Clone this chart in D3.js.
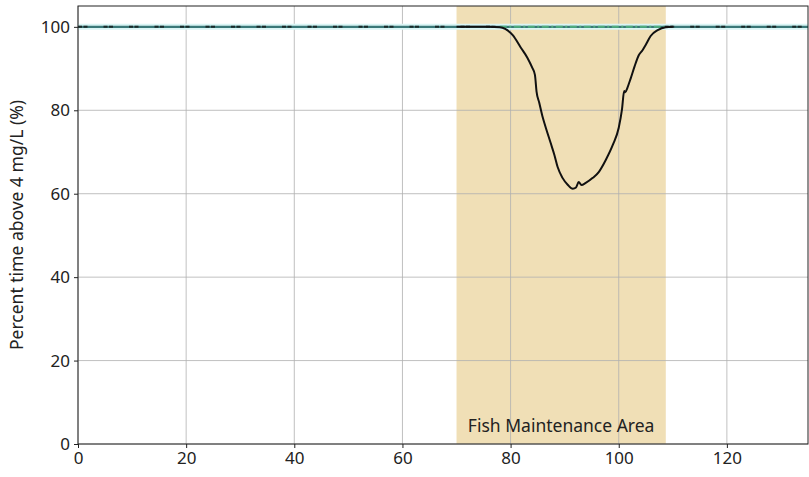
<!DOCTYPE html>
<html>
<head>
<meta charset="utf-8">
<script src="https://cdn.jsdelivr.net/npm/d3@7"></script>
<style>
  body { margin: 0; background: #fff; }
  svg { display: block; font-family: "Noto Sans", sans-serif; }
</style>
</head>
<body>
<svg id="chart" width="809" height="477"></svg>
<script>
// Dissolved oxygen compliance along the river (distance vs. % time above 4 mg/L)
const xTicks = [0, 20, 40, 60, 80, 100, 120];
const yTicks = [0, 20, 40, 60, 80, 100];
const xDomain = [0, 135];
const yDomain = [0, 105];

// Fish maintenance reach
const areaStart = 70;
const areaEnd = 108.7;
const areaLabel = "Fish Maintenance Area";

// Baseline (100 %) series
const baseX = [0, 135];
const baseY = [100, 100];

// Modelled percent-time curve through the maintenance reach
const curveX = [70, 76, 78, 79, 80.4, 81.9, 83.1, 84, 84.5, 84.8, 85.3, 85.9, 86.4, 87.4, 88.1, 88.7, 89.6, 90.6, 91.5, 92.1, 92.6, 93.1, 93.9, 95.2, 96.3, 97.6, 98.9, 100, 100.6, 101, 101.2, 101.6, 102.2, 102.9, 103.7, 104.4, 105, 105.9, 107.2, 108.7, 110];
const curveY = [100, 100, 99.9, 99.5, 98, 95, 92.6, 90.2, 88.5, 84.5, 81.8, 78.5, 76.3, 72.2, 69.3, 66.4, 63.8, 62.1, 61.2, 61.5, 62.8, 62.1, 62.6, 63.8, 65.2, 68.1, 71.7, 75.8, 80.2, 84.6, 84.3, 85.4, 87.6, 90.4, 93.2, 94.4, 95.7, 97.8, 99.2, 99.9, 100];

// Threshold dashes: black outside the dip, green through it
const dashBlackX = [[0, 78], [108.5, 135]];
const dashGreenX = [78, 108.5];

const svg = d3.select("#chart");
const m = { left: 78, right: 1, top: 6, bottom: 33 };
const W = 809, H = 477;

const x = d3.scaleLinear().domain(xDomain).range([m.left, W - m.right]);
const y = d3.scaleLinear().domain(yDomain).range([H - m.bottom, m.top]);

const plot = svg.append("g");

// shaded reach
plot.append("rect")
  .attr("x", x(areaStart)).attr("y", y(yDomain[1]))
  .attr("width", x(areaEnd) - x(areaStart))
  .attr("height", y(yDomain[0]) - y(yDomain[1]))
  .attr("fill", "#f0dfb6");

// grid
plot.append("g").selectAll("line").data(xTicks).join("line")
  .attr("x1", d => x(d)).attr("x2", d => x(d))
  .attr("y1", y(yDomain[0])).attr("y2", y(yDomain[1]))
  .attr("stroke", "#b0b0b0").attr("stroke-width", 0.8);
plot.append("g").selectAll("line").data(yTicks).join("line")
  .attr("x1", x(xDomain[0])).attr("x2", x(xDomain[1]))
  .attr("y1", d => y(d)).attr("y2", d => y(d))
  .attr("stroke", "#b0b0b0").attr("stroke-width", 0.8);

const line = d3.line().x(d => x(d[0])).y(d => y(d[1]));

// baseline with light band
const base = baseX.map((v, i) => [v, baseY[i]]);
plot.append("path").attr("d", line(base)).attr("fill", "none")
  .attr("stroke", "#daf5f5").attr("stroke-width", 6);
plot.append("path").attr("d", line(base)).attr("fill", "none")
  .attr("stroke", "#3a7878").attr("stroke-width", 2.2);

// threshold dashes
dashBlackX.forEach(seg => {
  plot.append("path").attr("d", line(seg.map(v => [v, 100]))).attr("fill", "none")
    .attr("stroke", "#1a2a2a").attr("stroke-width", 2)
    .attr("stroke-dasharray", "4,1.5,4,16");
});
plot.append("path").attr("d", line(dashGreenX.map(v => [v, 100]))).attr("fill", "none")
  .attr("stroke", "#4fae7e").attr("stroke-width", 2)
  .attr("stroke-dasharray", "7,2.5,2,2.5");

// modelled curve
const curve = curveX.map((v, i) => [v, curveY[i]]);
plot.append("path").attr("d", d3.line().curve(d3.curveMonotoneX).x(d => x(d[0])).y(d => y(d[1]))(curve))
  .attr("fill", "none").attr("stroke", "#111").attr("stroke-width", 2)
  .attr("stroke-linejoin", "round");

// reach label
plot.append("text")
  .attr("x", x((areaStart + areaEnd) / 2)).attr("y", y(0) - 12)
  .attr("text-anchor", "middle").attr("font-size", 17.5).attr("fill", "#222")
  .text(areaLabel);

// axes
const xAxis = d3.axisBottom(x).tickValues(xTicks).tickSize(4).tickPadding(4);
const yAxis = d3.axisLeft(y).tickValues(yTicks).tickSize(4).tickPadding(4);

const gx = svg.append("g").attr("transform", `translate(0,${y(yDomain[0])})`).call(xAxis);
const gy = svg.append("g").attr("transform", `translate(${x(xDomain[0])},0)`).call(yAxis);
[gx, gy].forEach(g => {
  g.select(".domain").remove();
  g.selectAll("text").attr("font-size", 17).attr("fill", "#222").attr("font-family", "Noto Sans, sans-serif");
  g.selectAll("line").attr("stroke", "#222");
});

// frame
svg.append("rect")
  .attr("x", x(xDomain[0])).attr("y", y(yDomain[1]))
  .attr("width", x(xDomain[1]) - x(xDomain[0]))
  .attr("height", y(yDomain[0]) - y(yDomain[1]))
  .attr("fill", "none").attr("stroke", "#222").attr("stroke-width", 1);

// y label
svg.append("text")
  .attr("transform", `translate(23,${(y(yDomain[0]) + y(yDomain[1])) / 2}) rotate(-90)`)
  .attr("text-anchor", "middle").attr("font-size", 17.5).attr("fill", "#222")
  .text("Percent time above 4 mg/L (%)");
</script>
</body>
</html>
